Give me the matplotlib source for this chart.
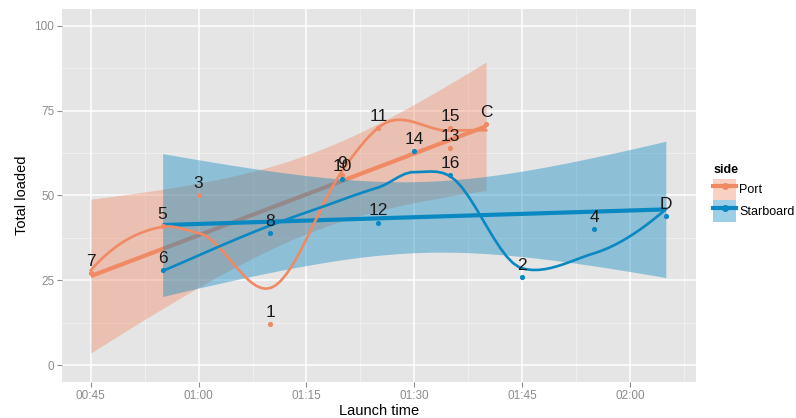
import numpy as np
import matplotlib.pyplot as plt
from matplotlib.patches import Patch
from matplotlib.lines import Line2D

plt.rcParams['font.family'] = ['Liberation Sans', 'DejaVu Sans']

# Datos (minutos desde 00:00)
port_t = [45, 55, 60, 70, 80, 85, 95, 95, 100]
port_y = [27, 41, 50, 12, 56, 70, 70, 64, 71]
port_lab = ['7', '5', '3', '1', '9', '11', '15', '13', 'C']

star_t = [55, 70, 80, 85, 90, 95, 105, 115, 125]
star_y = [28, 39, 55, 42, 63, 56, 26, 40, 44]
star_lab = ['6', '8', '10', '12', '14', '16', '2', '4', 'D']

x_ticks = [45, 60, 75, 90, 105, 120]
x_ticklabels = ['00:45', '01:00', '01:15', '01:30', '01:45', '02:00']
y_ticks = [0, 25, 50, 75, 100]

c_port = '#F08A65'
c_star = '#0A88C2'
bg = '#E5E5E5'
T_CRIT = 2.364624  # t(0.975, df=7)


def local_fit(x, y, x0, q):
    # ajuste cuadratico local con pesos tricubicos
    d = np.abs(x - x0)
    h = np.sort(d)[q - 1]
    w = np.clip(1 - (d / h) ** 3, 0, None) ** 3
    X = np.vstack([np.ones(len(x)), x - x0, (x - x0) ** 2]).T
    sw = np.sqrt(w)
    beta = np.linalg.lstsq(X * sw[:, None], y * sw, rcond=None)[0]
    return beta[0], beta[1]


def loess(x, y, xs, span=0.75):
    # ajuste en vertices (los propios x) e interpolacion cubica de Hermite
    x = np.asarray(x, float)
    y = np.asarray(y, float)
    q = int(np.floor(len(x) * span))
    ux = np.unique(x)
    mu = 0.005 * (ux[-1] - ux[0])
    verts = np.concatenate([[ux[0] - mu], ux, [ux[-1] + mu]])
    vals = np.array([local_fit(x, y, v, q) for v in verts])
    out = []
    for x0 in xs:
        i = min(np.searchsorted(verts, x0, side='right') - 1, len(verts) - 2)
        x1, x2 = verts[i], verts[i + 1]
        hh = x2 - x1
        t = (x0 - x1) / hh
        f1, d1 = vals[i]
        f2, d2 = vals[i + 1]
        h00 = 2 * t**3 - 3 * t**2 + 1
        h10 = t**3 - 2 * t**2 + t
        h01 = -2 * t**3 + 3 * t**2
        h11 = t**3 - t**2
        out.append(h00 * f1 + h10 * hh * d1 + h01 * f2 + h11 * hh * d2)
    return np.array(out)


def lm_band(x, y, xs):
    x = np.asarray(x, float)
    y = np.asarray(y, float)
    n = len(x)
    b, a = np.polyfit(x, y, 1)
    res = y - (a + b * x)
    s = np.sqrt(np.sum(res ** 2) / (n - 2))
    sxx = np.sum((x - x.mean()) ** 2)
    fit = a + b * xs
    se = s * np.sqrt(1 / n + (xs - x.mean()) ** 2 / sxx)
    return fit, fit - T_CRIT * se, fit + T_CRIT * se


fig = plt.figure(figsize=(7.96, 4.18), dpi=100)
ax = fig.add_axes([0.0779, 0.0861, 0.7965, 0.8924])
ax.set_facecolor(bg)

# Rejilla
for v in [12.5, 37.5, 62.5, 87.5]:
    ax.axhline(v, color='#F2F2F2', lw=0.6, zorder=0)
for v in [52.5, 67.5, 82.5, 97.5, 112.5, 127.5]:
    ax.axvline(v, color='#F2F2F2', lw=0.6, zorder=0)
for v in y_ticks:
    ax.axhline(v, color='white', lw=1.1, zorder=0)
for v in x_ticks:
    ax.axvline(v, color='white', lw=1.1, zorder=0)

# Ajuste lineal con banda de confianza
for t, y, c in [(port_t, port_y, c_port), (star_t, star_y, c_star)]:
    xs = np.linspace(min(t), max(t), 80)
    fit, lo, hi = lm_band(t, y, xs)
    ax.fill_between(xs, lo, hi, color=c, alpha=0.4, lw=0, zorder=1)
    ax.plot(xs, fit, color=c, lw=3.0, zorder=1, solid_capstyle='butt')

# Curvas loess
for t, y, c in [(port_t, port_y, c_port), (star_t, star_y, c_star)]:
    xs = np.linspace(min(t), max(t), 80)
    ax.plot(xs, loess(t, y, xs), color=c, lw=1.9, zorder=3)

# Puntos y etiquetas
for t, y, labs, c in [(port_t, port_y, port_lab, c_port), (star_t, star_y, star_lab, c_star)]:
    ax.scatter(t, y, s=14, color=c, zorder=4, lw=0)
    for xi, yi, lab in zip(t, y, labs):
        ax.annotate(lab, (xi, yi), xytext=(0, 3), textcoords='offset points',
                    ha='center', va='bottom', fontsize=12.5, color='#1A1A1A', zorder=5)

ax.set_xlim(41, 129.2)
ax.set_ylim(-5, 105)
ax.set_xticks(x_ticks)
ax.set_xticklabels(x_ticklabels)
ax.set_yticks(y_ticks)
ax.tick_params(colors='#8C8C8C', labelsize=8.5, length=3.5, width=0.8, pad=2)
for sp in ax.spines.values():
    sp.set_visible(False)
ax.set_xlabel('Launch time', fontsize=10.5, labelpad=2)
ax.set_ylabel('Total loaded', fontsize=10.5, labelpad=4)

handles = [
    (Patch(facecolor=c_port, alpha=0.4, lw=0), Line2D([], [], color=c_port, lw=3, marker='o', ms=4)),
    (Patch(facecolor=c_star, alpha=0.4, lw=0), Line2D([], [], color=c_star, lw=3, marker='o', ms=4)),
]
leg = fig.legend(handles, ['Port', 'Starboard'], title='side', loc='upper left',
                 bbox_to_anchor=(0.896, 0.608), frameon=False, fontsize=9,
                 handlelength=1.85, handleheight=2.3, handletextpad=0.25,
                 labelspacing=0.0, borderpad=0, borderaxespad=0)
leg.get_title().set_fontweight('bold')
leg.get_title().set_fontsize(9)
leg._legend_box.align = 'left'
leg._legend_box.sep = 2

fig.savefig('out.png', dpi=100)
